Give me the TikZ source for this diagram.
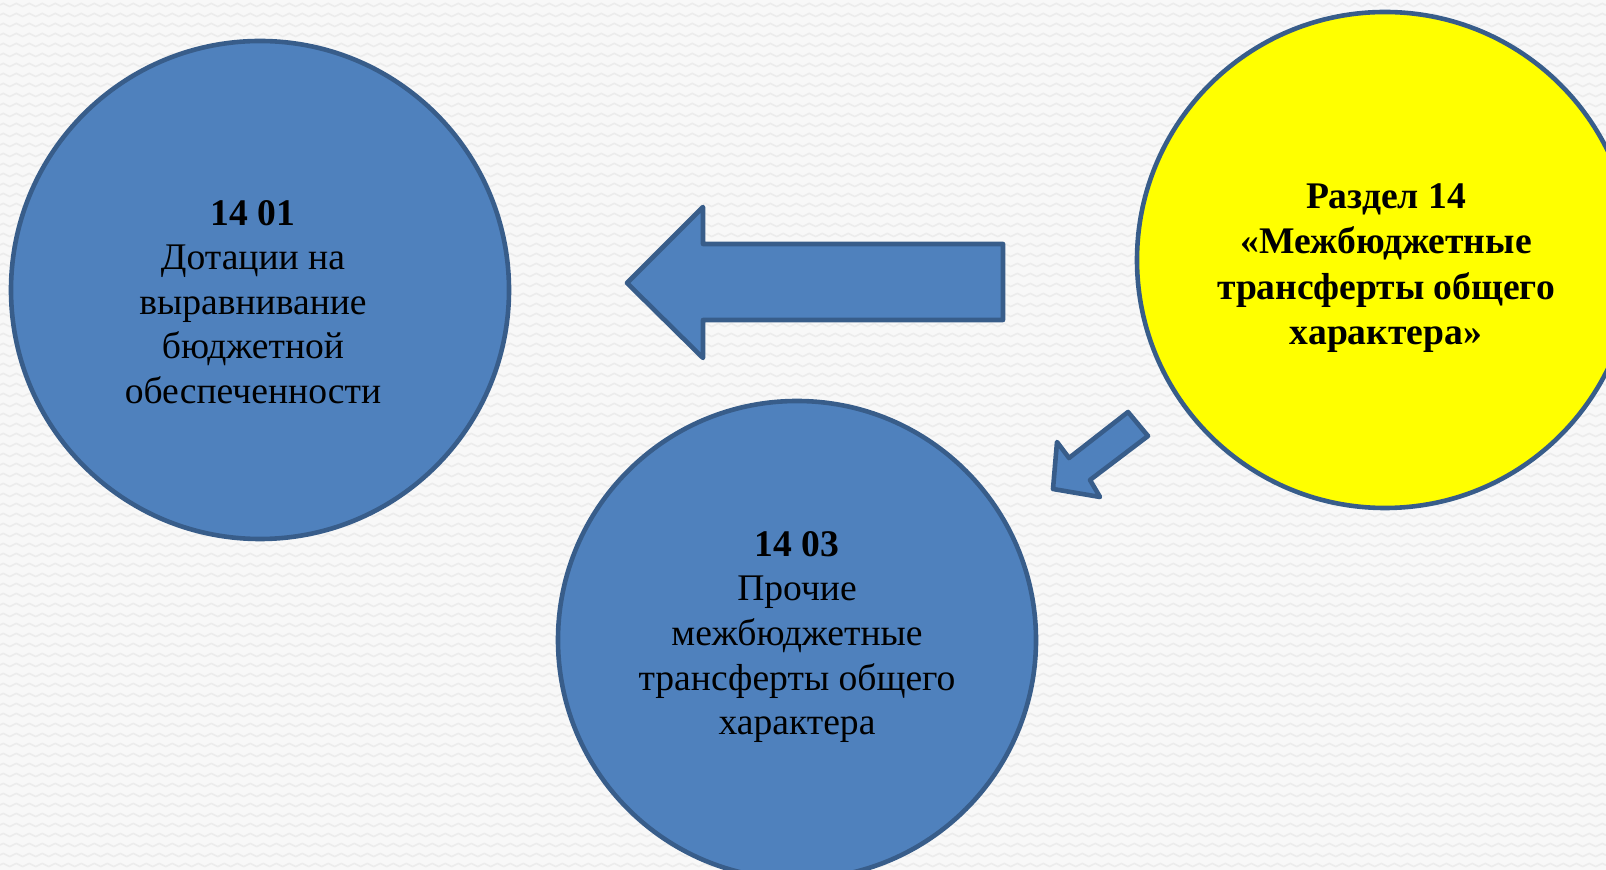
\documentclass[tikz,border=0pt]{standalone}
\usepackage{fontspec}
\setmainfont{Liberation Serif}
\usetikzlibrary{positioning, decorations.pathmorphing}
\definecolor{boxblue}{HTML}{4F81BD}
\definecolor{rimblue}{HTML}{385D8A}
\definecolor{sunyellow}{HTML}{FFFF00}
\definecolor{paper}{HTML}{F8F8F8}
\definecolor{wave}{HTML}{ECECEC}

\begin{document}
\begin{tikzpicture}[x=0.5pt,y=-0.5pt,
    disc/.style={circle,draw=rimblue,line width=2.3pt,fill=boxblue,inner sep=0pt},
    disctext/.style={align=center,font=\fontsize{18.8}{22.3}\selectfont},
    blockarrow/.style={draw=rimblue,line width=2.3pt,fill=boxblue,line join=round},
    wavy/.style={draw=wave,line width=0.8pt,decorate,
      decoration={zigzag,segment length=6.5pt,amplitude=0.8pt}}]
    \useasboundingbox (0,0) rectangle (1606,870);
    \clip (0,0) rectangle (1606,870);
    \fill[paper] (0,0) rectangle (1606,870);
    \foreach \row in {5,15,...,865}
      \draw[wavy] (0,\row) -- (1606,\row);

    \node[disc,minimum size=249pt] (d1401) at (260,290) {};
    \node[disc,minimum size=239pt] (d1403) at (797,640) {};
    \node[disc,fill=sunyellow,minimum size=248pt] (sect14) at (1385,260) {};

    \node[disctext] (t1401) at (253,302)
      {\textbf{14 01}\\Дотации на\\выравнивание\\бюджетной\\обеспеченности};
    \node[disctext] (t1403) at (797,637)
      {\textbf{14 03}\\Прочие\\межбюджетные\\трансферты общего\\характера};
    \node[disctext,font=\bfseries\fontsize{18.8}{22.7}\selectfont] (t14) at (1386,268)
      {Раздел 14\\«Межбюджетные\\трансферты общего\\характера»};

    \draw[blockarrow] (1003,244) -- (703,244) -- (703,207) -- (627,283)
      -- (703,358) -- (703,320) -- (1003,320) -- cycle;
    \draw[blockarrow] (1128,412) -- (1148,436) -- (1090,480) -- (1100,497)
      -- (1053,489) -- (1057,442) -- (1069,458) -- cycle;
\end{tikzpicture}
\end{document}
